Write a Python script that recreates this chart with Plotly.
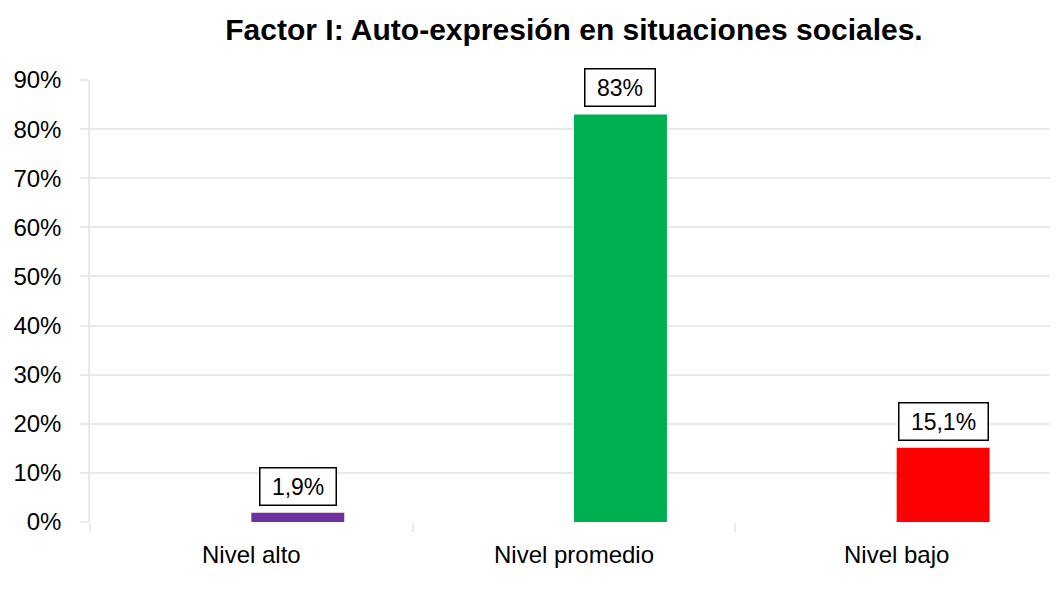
import plotly.graph_objects as go

# Data
categorias = ["Nivel alto", "Nivel promedio", "Nivel bajo"]
porcentajes = [0.019, 0.83, 0.151]
etiquetas = ["1,9%", "83%", "15,1%"]
colores = ["#7030A0", "#00B050", "#FF0000"]

titulo = "<b>Factor I: Auto-expresión en situaciones sociales.</b>"
fuente = "Arial, Liberation Sans, sans-serif"
gris = "#E9E9E9"

bar_width = 0.288

fig = go.Figure()
fig.add_trace(go.Bar(
    x=categorias,
    y=porcentajes,
    marker=dict(color=colores, line=dict(width=0)),
    width=bar_width,
    offset=0,
    hoverinfo="x+y",
))

# Boxed data labels above each bar
for i, (v, t) in enumerate(zip(porcentajes, etiquetas)):
    fig.add_annotation(
        x=i + bar_width / 2, y=v, xref="x", yref="y",
        text=" " + t + " ", showarrow=False,
        yanchor="bottom", yshift=7,
        font=dict(family=fuente, size=23, color="black"),
        bordercolor="black", borderwidth=1.5, borderpad=5,
        bgcolor="white",
    )

# the page body adds an 8px offset, margins compensate for it
fig.update_layout(
    width=1058, height=613,
    margin=dict(l=82, r=8, t=72, b=99, autoexpand=False),
    paper_bgcolor="white", plot_bgcolor="white",
    font=dict(family=fuente, size=24, color="black"),
    title=dict(text=titulo, x=0.5, xref="paper",
               y=1 - 21 / 613, yref="container", yanchor="middle",
               font=dict(family=fuente, size=30, color="black")),
    showlegend=False,
)

fig.update_xaxes(
    type="category",
    range=[-0.5, 2.5],
    tickson="boundaries",
    ticks="outside", ticklen=9, tickcolor=gris, tickwidth=1.5,
    ticklabelstandoff=16,
    showgrid=False, showline=False, zeroline=False,
    automargin=False,
    tickfont=dict(size=24),
)
fig.update_yaxes(
    range=[0, 0.9], dtick=0.1, tickformat=".0%",
    ticks="outside", ticklen=8, tickcolor=gris, tickwidth=1.5,
    ticklabelstandoff=14,
    showgrid=True, gridcolor=gris, gridwidth=1.5,
    showline=True, linecolor=gris, linewidth=1.5,
    zeroline=False,
    automargin=False,
    tickfont=dict(size=24),
)

fig.write_html("out.html")
